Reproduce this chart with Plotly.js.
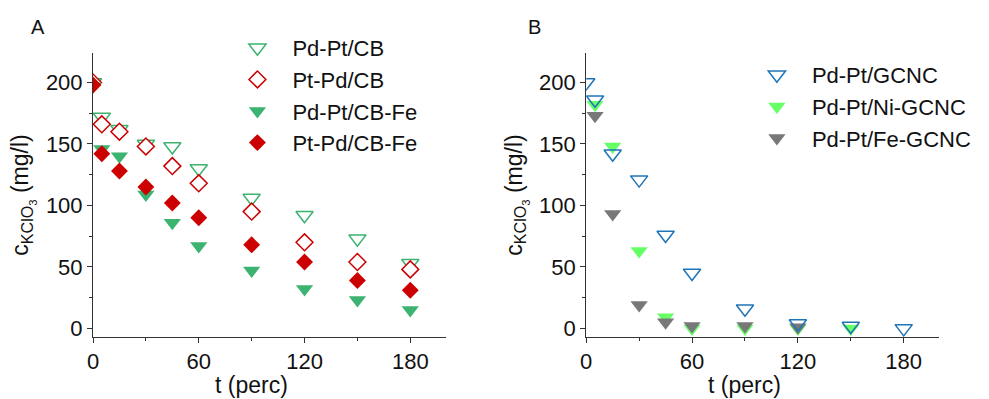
<!DOCTYPE html>
<html>
<head>
<meta charset="utf-8">
<script src="https://cdn.plot.ly/plotly-3.0.1.min.js"></script>
<style>html,body{margin:0;padding:0;background:#fff;}#chart{width:989px;height:399px;}</style>
</head>
<body>
<div id="chart"></div>
<script>
// Panel A data
const tA = [0, 5, 15, 30, 45, 60, 90, 120, 150, 180];
const pdPtCB   = [200, 172, 162, 150, 148, 130, 106, 92, 73, 53];
const ptPdCB   = [200, 166, 160, 148, 132, 118, 95, 70, 54, 48];
const pdPtCBFe = [197, 146, 140, 109, 86, 67, 47, 32, 23, 15];
const ptPdCBFe = [198, 142, 128, 115, 102, 90, 68, 54, 39, 31];

// Panel B data
const tB = [0, 5, 15, 30, 45, 60, 90, 120, 150, 180];
const pdPtGCNC = [200, 186, 142, 121, 76, 45, 16, 4, 2, 0];
const tNi = [5, 15, 30, 45, 60, 90, 120, 150];
const pdPtNiGCNC = [182, 148, 63, 9, 0, 0, 0, 0];
const tFe = [5, 15, 30, 45, 60, 90, 120];
const pdPtFeGCNC = [173, 93, 19, 5, 2, 2, 1];

const xTicks = [0, 60, 120, 180];
const yTicks = [0, 50, 100, 150, 200];

const FONT = 'Liberation Sans, Arial, sans-serif';
const GREEN = '#3cb371', RED = '#cc0000', BLUE = '#1f74b8', LGREEN = '#66ff66', GRAY = '#787878';
const TS = 15, DS = 13;

const traces = [
  {x: tA, y: pdPtCB, name: 'Pd-Pt/CB', mode: 'markers', xaxis: 'x', yaxis: 'y',
   marker: {symbol: 'triangle-down', size: TS, color: 'white', line: {color: GREEN, width: 1.5}}},
  {x: tA, y: ptPdCB, name: 'Pt-Pd/CB', mode: 'markers', xaxis: 'x', yaxis: 'y',
   marker: {symbol: 'diamond', size: DS, color: 'white', line: {color: RED, width: 1.5}}},
  {x: tA, y: pdPtCBFe, name: 'Pd-Pt/CB-Fe', mode: 'markers', xaxis: 'x', yaxis: 'y',
   marker: {symbol: 'triangle-down', size: TS, color: GREEN, line: {width: 0}}},
  {x: tA, y: ptPdCBFe, name: 'Pt-Pd/CB-Fe', mode: 'markers', xaxis: 'x', yaxis: 'y',
   marker: {symbol: 'diamond', size: DS, color: RED, line: {width: 0}}},
  {x: tNi, y: pdPtNiGCNC, name: 'Pd-Pt/Ni-GCNC', mode: 'markers', xaxis: 'x2', yaxis: 'y2', legend: 'legend2', legendrank: 2,
   marker: {symbol: 'triangle-down', size: TS, color: LGREEN, line: {width: 0}}},
  {x: tFe, y: pdPtFeGCNC, name: 'Pd-Pt/Fe-GCNC', mode: 'markers', xaxis: 'x2', yaxis: 'y2', legend: 'legend2', legendrank: 3,
   marker: {symbol: 'triangle-down', size: TS, color: GRAY, line: {width: 0}}},
  {x: tB, y: pdPtGCNC, name: 'Pd-Pt/GCNC', mode: 'markers', xaxis: 'x2', yaxis: 'y2', legend: 'legend2', legendrank: 1,
   marker: {symbol: 'triangle-down-open', size: TS, color: BLUE, line: {color: BLUE, width: 1.5}}}
];

const yTitle = 'c<sub>KClO<sub>3</sub></sub> (mg/l)';

function xax(domain, anchor) {
  return {domain: domain, anchor: anchor, range: [0, 200], tickvals: xTicks, ticktext: xTicks.map(String),
    showgrid: false, zeroline: false, showline: true, linecolor: '#333', linewidth: 1,
    ticks: 'outside', ticklen: 5, tickcolor: '#333', tickfont: {size: 22, color: '#111', family: FONT},
    minor: {tickvals: [30, 90, 150], ticks: 'outside', ticklen: 3, tickcolor: '#333'}};
}
function yax(domain, anchor) {
  return {domain: domain, anchor: anchor, range: [-7, 224], tickvals: yTicks, ticktext: yTicks.map(String),
    showgrid: false, zeroline: false, showline: true, linecolor: '#333', linewidth: 1,
    ticks: 'outside', ticklen: 5, tickcolor: '#333', tickfont: {size: 22, color: '#111', family: FONT},
    minor: {tickvals: [25, 75, 125, 175], ticks: 'outside', ticklen: 3, tickcolor: '#333'},
    title: {text: yTitle, font: {size: 23, color: '#111', family: FONT}, standoff: 10}};
}

const layout = {
  width: 989, height: 399,
  margin: {l: 93, r: 46, t: 53, b: 62},
  paper_bgcolor: 'white', plot_bgcolor: 'white',
  font: {family: FONT, color: '#111'},
  xaxis: xax([0, 0.4167], 'y'),
  yaxis: yax([0, 1], 'x'),
  xaxis2: xax([0.583, 1], 'y2'),
  yaxis2: yax([0, 1], 'x2'),
  legend: {x: 0.153, y: 1.0915, xanchor: 'left', yanchor: 'top', xref: 'paper', yref: 'paper',
    bgcolor: 'rgba(0,0,0,0)', font: {size: 22, family: FONT, color: '#111'}, itemwidth: 60, tracegroupgap: 0},
  legend2: {x: 0.767, y: 0.9965, xanchor: 'left', yanchor: 'top', xref: 'paper', yref: 'paper',
    bgcolor: 'rgba(0,0,0,0)', font: {size: 22, family: FONT, color: '#111'}, itemwidth: 60, tracegroupgap: 0},
  annotations: [
    {text: 'A', xref: 'paper', yref: 'paper', x: -0.065, y: 1.0915, xanchor: 'center', yanchor: 'middle', showarrow: false,
     font: {size: 20, family: FONT, color: '#111'}},
    {text: 'B', xref: 'paper', yref: 'paper', x: 0.522, y: 1.0915, xanchor: 'center', yanchor: 'middle', showarrow: false,
     font: {size: 20, family: FONT, color: '#111'}},
    {text: 't (perc)', xref: 'x', yref: 'paper', x: 90, y: -0.17, xanchor: 'center', yanchor: 'middle', showarrow: false,
     font: {size: 23, family: FONT, color: '#111'}},
    {text: 't (perc)', xref: 'x2', yref: 'paper', x: 90, y: -0.17, xanchor: 'center', yanchor: 'middle', showarrow: false,
     font: {size: 23, family: FONT, color: '#111'}}
  ]
};

Plotly.newPlot('chart', traces, layout, {displayModeBar: false, staticPlot: true});
</script>
</body>
</html>
